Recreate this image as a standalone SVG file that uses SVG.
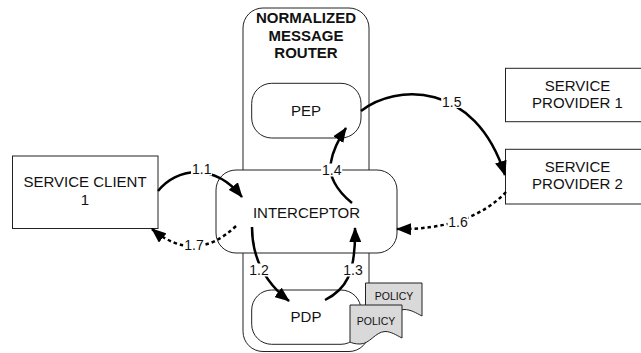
<svg xmlns="http://www.w3.org/2000/svg" width="641" height="353" viewBox="0 0 641 353">
<style>
.box{fill:#fff;stroke:#222;stroke-width:1}
.doc{fill:#d9d9d9;stroke:#222;stroke-width:1}
.t{font-family:"Liberation Sans",Arial,sans-serif;font-size:15px;fill:#111;text-anchor:middle}
.title{font-weight:bold}
.pol{font-size:10.5px}
.c{fill:none;stroke:#000;stroke-width:2.5;marker-end:url(#ah)}
.dot{stroke-dasharray:3.5 3}
.bg{fill:#fff}
.lbl{font-family:"Liberation Sans",Arial,sans-serif;font-size:14px;fill:#111;text-anchor:middle}
</style>
<defs>
<marker id="ah" markerUnits="userSpaceOnUse" markerWidth="16" markerHeight="12" refX="14" refY="6" orient="auto">
<path d="M0,0 L15,6 L0,12 Z" fill="#000"/>
</marker>
</defs>
<g id="nmr">
<rect class="box" x="243" y="8" width="126" height="343.5" rx="20"/>
<text class="t title" x="306" y="23">NORMALIZED</text>
<text class="t title" x="306" y="40.5">MESSAGE</text>
<text class="t title" x="306" y="58">ROUTER</text>
</g>
<g id="pep">
<rect class="box" x="251.7" y="83.3" width="109.3" height="54.7" rx="20"/>
<text class="t" x="306" y="116">PEP</text>
</g>
<g id="interceptor">
<rect class="box" x="216" y="170" width="181" height="83" rx="20"/>
<text class="t" x="306.5" y="217.5">INTERCEPTOR</text>
</g>
<g id="pdp">
<rect class="box" x="251.7" y="290" width="109.3" height="54.3" rx="20"/>
<text class="t" x="306" y="321.5">PDP</text>
</g>
<g id="policy2">
<path class="doc" d="M365.5,283 H422 V316 C416,313 411,309.5 404,309.5 C394,310 388,322 377,322 C372,322 368,321 365.5,320 Z"/>
<text class="t pol" x="394" y="300">POLICY</text>
</g>
<g id="policy1">
<path class="doc" d="M350,305 H402 V338 C396,335 391,331.5 385,331.5 C375,332 370,344 360,344 C355,344 352,343 350,342 Z"/>
<text class="t pol" x="376" y="325">POLICY</text>
</g>
<g id="client">
<rect class="box" x="12.5" y="156" width="145.5" height="72.5"/>
<text class="t" x="85" y="187.3">SERVICE CLIENT</text>
<text class="t" x="85" y="205">1</text>
</g>
<g id="sp1">
<rect class="box" x="505.5" y="68.3" width="150" height="53.4"/>
<text class="t" x="577.5" y="90.7">SERVICE</text>
<text class="t" x="577.5" y="108.3">PROVIDER 1</text>
</g>
<g id="sp2">
<rect class="box" x="505.5" y="149.3" width="150" height="54.7"/>
<text class="t" x="577.5" y="171.7">SERVICE</text>
<text class="t" x="577.5" y="189.3">PROVIDER 2</text>
</g>
<g id="connectors">
<path class="c" d="M158,191 C176,168 214,162 242,197"/>
<path class="c" d="M252,227 C252,255 262,280 289,301"/>
<path class="c" d="M325,300 C345,290 356,275 355,228"/>
<path class="c" d="M352,203 C336,190 328,175 331,162 C333,150 338,140 346,128"/>
<path class="c" d="M361,111 C395,84 475,80 505,175"/>
<path class="c dot" d="M506,192 Q470,230 397,229"/>
<path class="c dot" d="M236,226 Q195,265 152,229"/>
<rect class="bg" x="191" y="162.5" width="21" height="13"/>
<rect class="bg" x="248.5" y="263.5" width="21" height="13"/>
<rect class="bg" x="342.5" y="263.5" width="21" height="13"/>
<rect class="bg" x="321.2" y="163.5" width="21" height="13"/>
<rect class="bg" x="441.2" y="95" width="21" height="13"/>
<rect class="bg" x="447.5" y="215" width="21" height="13"/>
<rect class="bg" x="183.5" y="238.5" width="21" height="13"/>
<text class="lbl" x="201.7" y="174.3">1.1</text>
<text class="lbl" x="259" y="275">1.2</text>
<text class="lbl" x="353" y="275">1.3</text>
<text class="lbl" x="331.7" y="175">1.4</text>
<text class="lbl" x="451.7" y="106.5">1.5</text>
<text class="lbl" x="458" y="226.7">1.6</text>
<text class="lbl" x="194" y="250">1.7</text>
</g>
</svg>
